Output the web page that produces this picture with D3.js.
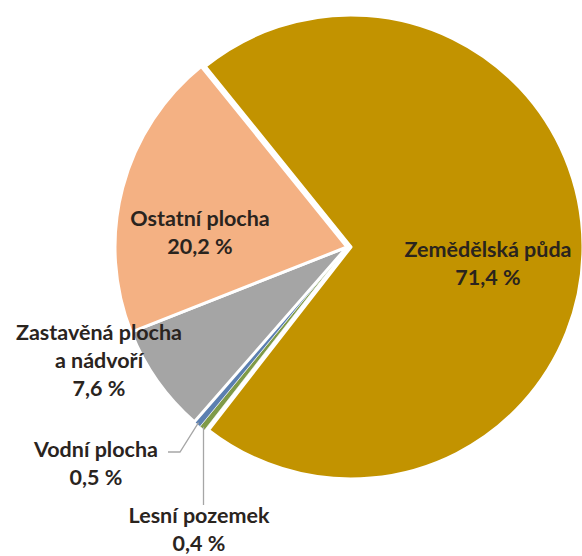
<!DOCTYPE html>
<html>
<head>
<meta charset="utf-8">
<script src="https://cdn.jsdelivr.net/npm/d3@7"></script>
<style>
    body { margin: 0; background: #fff; }
    svg { display: block; }
    text { font-family: Lato, "Open Sans", sans-serif; font-weight: 700; font-size: 21.5px; fill: #2a241e; }
</style>
</head>
<body>
<svg id="chart"></svg>
<script>
const categories = ["Zemědělská půda", "Lesní pozemek", "Vodní plocha", "Zastavěná plocha a nádvoří", "Ostatní plocha"]
const values = [71.4, 0.4, 0.5, 7.6, 20.2]
const valueLabels = ["71,4 %", "0,4 %", "0,5 %", "7,6 %", "20,2 %"]
const colors = ["#c29300", "#7f9a48", "#5b7fb0", "#a5a5a5", "#f4b183"]

const width = 582
const height = 556
const cx = 347
const cy = 247
const radius = 232

const svg = d3.select('#chart')
    .attr("width", width)
    .attr("height", height)

const data = categories.map((c, i) => ({ name: c, value: values[i], label: valueLabels[i], color: colors[i] }))

const start = -38.9 * Math.PI / 180
const pie = d3.pie()
    .sort(null)
    .value(d => d.value)
    .startAngle(start)
    .endAngle(start + 2 * Math.PI)

const arc = d3.arc().innerRadius(0).outerRadius(radius)
const arcs = pie(data)

const g = svg.append('g').attr('transform', `translate(${cx},${cy})`)

g.selectAll('path')
    .data(arcs)
    .enter()
    .append('path')
    .attr('d', arc)
    .attr('fill', d => d.data.color)
    .attr('stroke', '#fff')
    .attr('stroke-width', d => d.index === 1 || d.index === 2 ? 0.6 : 3)
    .attr('stroke-linejoin', 'round')
    .attr('transform', d => {
        // prvni vysec je mirne vysunuta
        if (d.index !== 0) return null
        const mid = (d.startAngle + d.endAngle) / 2
        return `translate(${4 * Math.sin(mid)},${-4 * Math.cos(mid)})`
    })

function pointAt(a, r) {
    return [r * Math.sin(a), -r * Math.cos(a)]
}

// popisky
const labels = [
    { i: 0, x: 488, y: 257, lines: ["Zemědělská půda"] },
    { i: 4, x: 200, y: 226, lines: ["Ostatní plocha"] },
    { i: 3, x: 99, y: 340, lines: ["Zastavěná plocha", "a nádvoří"] },
    { i: 2, x: 96, y: 457, lines: ["Vodní plocha"] },
    { i: 1, x: 199, y: 523, lines: ["Lesní pozemek"] }
]

labels.forEach(l => {
    const t = svg.append('text')
        .attr('text-anchor', 'middle')
        .attr('x', l.x)
        .attr('y', l.y)
    l.lines.concat([arcs[l.i].data.label]).forEach((s, k) => {
        t.append('tspan').attr('x', l.x).attr('dy', k === 0 ? 0 : 28).text(s)
    })
})

// vodici cary
const vod = arcs[2]
const vp = pointAt((vod.startAngle + vod.endAngle) / 2, radius - 2)
svg.append('polyline')
    .attr('points', [[cx + vp[0], cy + vp[1]], [180, 452], [168, 452]].map(p => p.join(',')).join(' '))
    .attr('fill', 'none')
    .attr('stroke', '#a6a6a6')
    .attr('stroke-width', 1.3)

const les = arcs[1]
const lp = pointAt((les.startAngle + les.endAngle) / 2, radius - 2)
svg.append('polyline')
    .attr('points', [[cx + lp[0], cy + lp[1]], [cx + lp[0], 505]].map(p => p.join(',')).join(' '))
    .attr('fill', 'none')
    .attr('stroke', '#a6a6a6')
    .attr('stroke-width', 1.3)
</script>
</body>
</html>
